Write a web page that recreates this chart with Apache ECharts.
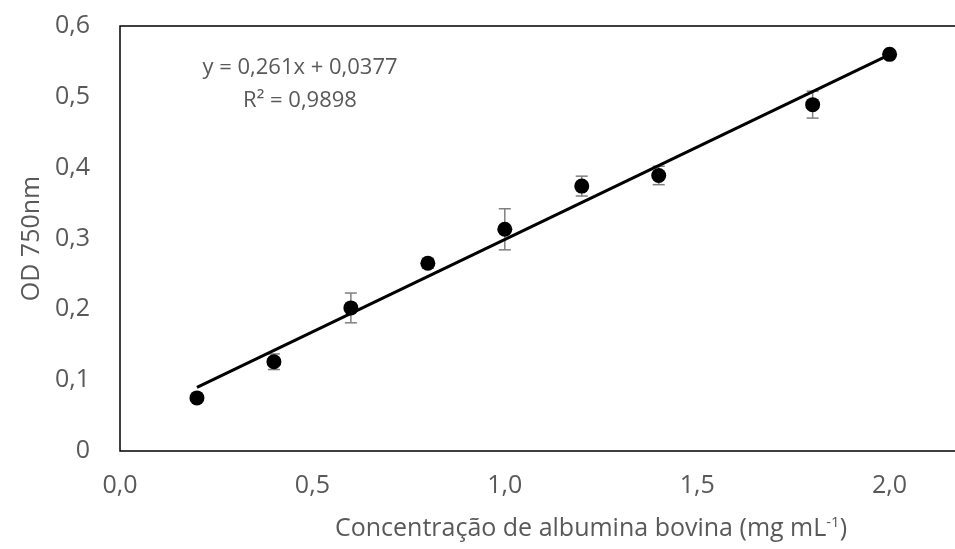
<!DOCTYPE html>
<html>
<head>
<meta charset="utf-8">
<script src="https://cdn.jsdelivr.net/npm/echarts@6/dist/echarts.min.js"></script>
<style>
  html, body { margin: 0; padding: 0; background: #fff; overflow: hidden; }
  #chart { width: 955px; height: 549px; }
</style>
</head>
<body>
<div id="chart"></div>
<script>
// concentração (mg/mL) e OD 750nm
var conc = [0.2, 0.4, 0.6, 0.8, 1.0, 1.2, 1.4, 1.8, 2.0];
var od = [0.075, 0.126, 0.202, 0.265, 0.313, 0.374, 0.389, 0.489, 0.560];
var odErr = [0.0, 0.011, 0.021, 0.007, 0.029, 0.014, 0.013, 0.019, 0.0];
// linha de tendência (extremos)
var trendX = [0.2, 2.0];
var trendY = [0.0899, 0.5597];
var eqText = ["y = 0,261x + 0,0377", "R² = 0,9898"];

var txtColor = "#595959";
var font = "'Open Sans', 'Liberation Sans', sans-serif";

var chart = echarts.init(document.getElementById("chart"));

function fmt(v) {
  if (v === 0) return "0";
  return v.toFixed(1).replace(".", ",");
}

var option = {
  animation: false,
  textStyle: { fontFamily: font },
  grid: {
    left: 120,
    top: 26,
    bottom: 98,
    right: -127,
    outerBoundsMode: "none",
    containLabel: false,
    show: true,
    borderColor: "#000",
    borderWidth: 1.5,
    backgroundColor: "#fff"
  },
  xAxis: {
    type: "value",
    min: 0,
    max: 2.5,
    interval: 0.5,
    name: "{t|Concentração de albumina bovina (mg mL}{s|-1}{t|)}",
    nameLocation: "middle",
    nameGap: 64,
    nameTextStyle: {
      padding: [0, 20, 0, 0],
      rich: {
        t: { fontSize: 25, color: txtColor, fontFamily: font },
        s: { fontSize: 15, color: txtColor, fontFamily: font, verticalAlign: "top", padding: [0, 0, 12, 0] }
      }
    },
    axisLine: { show: false },
    axisTick: { show: false },
    splitLine: { show: false },
    axisLabel: {
      color: txtColor,
      fontSize: 25,
      margin: 22,
      showMaxLabel: false,
      formatter: function (v) { return v.toFixed(1).replace(".", ","); }
    }
  },
  yAxis: {
    type: "value",
    min: 0,
    max: 0.6,
    interval: 0.1,
    name: "OD 750nm",
    nameLocation: "middle",
    nameGap: 76,
    nameTextStyle: { color: txtColor, fontSize: 25 },
    axisLine: { show: false },
    axisTick: { show: false },
    splitLine: { show: false },
    axisLabel: {
      color: txtColor,
      fontSize: 25,
      margin: 30,
      formatter: fmt
    }
  },
  graphic: eqText.map(function (t, i) {
    return {
      type: "text",
      x: 300,
      y: 68 + i * 33,
      style: {
        text: t,
        align: "center",
        verticalAlign: "middle",
        fill: txtColor,
        font: "22px " + font
      }
    };
  }),
  series: [
    {
      type: "custom",
      z: 2,
      renderItem: function (params, api) {
        var x = api.value(0), y = api.value(1), e = api.value(2);
        if (!e) return null;
        var top = api.coord([x, y + e]);
        var bot = api.coord([x, y - e]);
        var hw = 6;
        var st = { stroke: "#7f7f7f", lineWidth: 1.5 };
        return {
          type: "group",
          children: [
            { type: "line", shape: { x1: top[0], y1: top[1], x2: bot[0], y2: bot[1] }, style: st },
            { type: "line", shape: { x1: top[0] - hw, y1: top[1], x2: top[0] + hw, y2: top[1] }, style: st },
            { type: "line", shape: { x1: bot[0] - hw, y1: bot[1], x2: bot[0] + hw, y2: bot[1] }, style: st }
          ]
        };
      },
      data: conc.map(function (c, i) { return [c, od[i], odErr[i]]; })
    },
    {
      type: "line",
      z: 3,
      data: trendX.map(function (c, i) { return [c, trendY[i]]; }),
      showSymbol: false,
      symbol: "none",
      lineStyle: { color: "#000", width: 3 }
    },
    {
      type: "scatter",
      z: 4,
      symbolSize: 15,
      itemStyle: { color: "#000", opacity: 1 },
      data: conc.map(function (c, i) { return [c, od[i]]; })
    }
  ]
};

chart.setOption(option);
</script>
</body>
</html>
